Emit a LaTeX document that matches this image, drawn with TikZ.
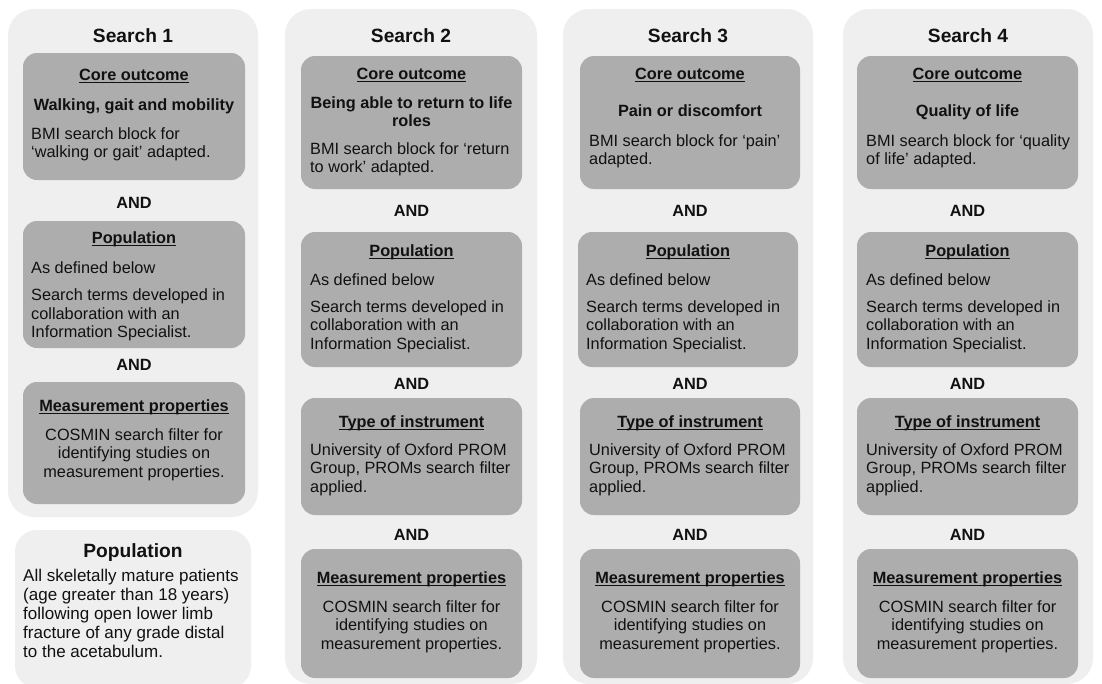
\documentclass[tikz,border=0pt]{standalone}
\usepackage{fontspec}
\setmainfont{Liberation Sans}
\definecolor{panelgray}{HTML}{EFEFEF}
\definecolor{boxgray}{HTML}{ADADAD}
\definecolor{ink}{HTML}{111111}
\newcommand{\fsbody}{\fontsize{16.3}{18.5}\selectfont}
\newcommand{\fspop}{\fontsize{17}{19}\selectfont}
\newcommand{\ulx}[1]{\leavevmode\setbox0\hbox{#1}\rlap{\rule[-3pt]{\wd0}{1.1pt}}\box0}
\tikzset{
  panelbox/.style={fill=panelgray, draw=none, rounded corners=26pt, inner sep=0, outer sep=0, anchor=north west},
  popbox/.style={fill=panelgray, draw=none, rounded corners=22pt, inner sep=0, outer sep=0, anchor=north west},
  greybox/.style={fill=boxgray, draw=none, rounded corners=14pt, inner sep=0, outer sep=0, anchor=north west},
  titletext/.style={anchor=base, inner sep=0, text=ink, font=\bfseries\fontsize{19.2}{22}\selectfont},
  headtext/.style={anchor=base, inner sep=0, text=ink, font=\bfseries\fsbody},
  headpara/.style={anchor=north, inner sep=0, text=ink, align=center, yshift=12.95pt, font=\bfseries\fsbody},
  bodyleft/.style={anchor=north west, inner sep=0, text=ink, align=left, yshift=12.95pt, font=\fsbody},
  bodycenter/.style={anchor=north, inner sep=0, text=ink, align=center, yshift=12.95pt, font=\fsbody},
  popleft/.style={anchor=north west, inner sep=0, text=ink, align=left, yshift=13.3pt, font=\fspop},
  poptitle/.style={anchor=base, inner sep=0, text=ink, font=\bfseries\fontsize{19.2}{22}\selectfont},
}
\begin{document}
\begin{tikzpicture}[x=1pt,y=-1pt]
\useasboundingbox (0,0) rectangle (1102,683);
\clip (0,0) rectangle (1102,683);
\fill[white] (0,0) rectangle (1102,683);

% ---------------- Search 1 ----------------
\node[panelbox, minimum width=250pt, minimum height=508pt] (p1) at (8,9) {};
\node[titletext] (t1) at (133,42) {Search 1};
\node[greybox, minimum width=222pt, minimum height=127pt] (b1a) at (23,53) {};
\node[headtext] (h1a) at (134,80) {\ulx{Core outcome}};
\node[headtext] (o1) at (134,110) {Walking, gait and mobility};
\node[bodyleft] (d1a) at (31,139) {\strut BMI search block for\\‘walking or gait’ adapted.};
\node[headtext] (and1a) at (134,208) {AND};
\node[greybox, minimum width=222pt, minimum height=127pt] (b1b) at (23,221) {};
\node[headtext] (h1b) at (134,243) {\ulx{Population}};
\node[bodyleft] (d1b) at (31,273) {\strut As defined below};
\node[bodyleft] (e1b) at (31,300.5) {\strut Search terms developed in\\collaboration with an\\Information Specialist.};
\node[headtext] (and1b) at (134,370) {AND};
\node[greybox, minimum width=222pt, minimum height=122pt] (b1c) at (23,382) {};
\node[headtext] (h1c) at (134,411) {\ulx{Measurement properties}};
\node[bodycenter] (d1c) at (134,440) {\strut COSMIN search filter for\\identifying studies on\\measurement properties.};

% ---------------- Population panel ----------------
\node[popbox, minimum width=236pt, minimum height=158pt] (pp) at (15,530) {};
\node[poptitle] (ppt) at (133,557) {Population};
\node[popleft] (ppd) at (23,581) {\strut All skeletally mature patients\\(age greater than 18 years)\\following open lower limb\\fracture of any grade distal\\to the acetabulum.};

% ---------------- Search 2 ----------------
\node[panelbox, minimum width=252pt, minimum height=675pt] (p2) at (285,9) {};
\node[titletext] (t2) at (411,42) {Search 2};
\node[greybox, minimum width=221pt, minimum height=133pt] (b2a) at (301,56) {};
\node[headtext] (h2a) at (411.5,79) {\ulx{Core outcome}};
\node[headpara] (o2) at (411.5,108) {\strut Being able to return to life\\roles};
\node[bodyleft] (d2a) at (310,154) {\strut BMI search block for ‘return\\to work’ adapted.};
\node[headtext] (and2a) at (411.5,216) {AND};
\node[greybox, minimum width=221pt, minimum height=135pt] (b2b) at (301,232) {};
\node[headtext] (h2b) at (411.5,256) {\ulx{Population}};
\node[bodyleft] (d2b) at (310,285) {\strut As defined below};
\node[bodyleft] (e2b) at (310,312) {\strut Search terms developed in\\collaboration with an\\Information Specialist.};
\node[headtext] (and2b) at (411.5,389) {AND};
\node[greybox, minimum width=221pt, minimum height=117pt] (b2c) at (301,398) {};
\node[headtext] (h2c) at (411.5,427) {\ulx{Type of instrument}};
\node[bodyleft] (d2c) at (310,455) {\strut University of Oxford PROM\\Group, PROMs search filter\\applied.};
\node[headtext] (and2c) at (411.5,540) {AND};
\node[greybox, minimum width=221pt, minimum height=129pt] (b2d) at (301,549) {};
\node[headtext] (h2d) at (411.5,583) {\ulx{Measurement properties}};
\node[bodycenter] (d2d) at (411.5,612) {\strut COSMIN search filter for\\identifying studies on\\measurement properties.};

% ---------------- Search 3 ----------------
\node[panelbox, minimum width=250pt, minimum height=675pt] (p3) at (563,9) {};
\node[titletext] (t3) at (688,42) {Search 3};
\node[greybox, minimum width=220pt, minimum height=133pt] (b3a) at (580,56) {};
\node[headtext] (h3a) at (690,79) {\ulx{Core outcome}};
\node[headtext] (o3) at (690,116) {Pain or discomfort};
\node[bodyleft] (d3a) at (589,146) {\strut BMI search block for ‘pain’\\adapted.};
\node[headtext] (and3a) at (690,216) {AND};
\node[greybox, minimum width=220pt, minimum height=135pt] (b3b) at (578,232) {};
\node[headtext] (h3b) at (688,256) {\ulx{Population}};
\node[bodyleft] (d3b) at (586,285) {\strut As defined below};
\node[bodyleft] (e3b) at (586,312) {\strut Search terms developed in\\collaboration with an\\Information Specialist.};
\node[headtext] (and3b) at (690,389) {AND};
\node[greybox, minimum width=220pt, minimum height=117pt] (b3c) at (580,398) {};
\node[headtext] (h3c) at (690,427) {\ulx{Type of instrument}};
\node[bodyleft] (d3c) at (589,455) {\strut University of Oxford PROM\\Group, PROMs search filter\\applied.};
\node[headtext] (and3c) at (690,540) {AND};
\node[greybox, minimum width=220pt, minimum height=129pt] (b3d) at (580,549) {};
\node[headtext] (h3d) at (690,583) {\ulx{Measurement properties}};
\node[bodycenter] (d3d) at (690,612) {\strut COSMIN search filter for\\identifying studies on\\measurement properties.};

% ---------------- Search 4 ----------------
\node[panelbox, minimum width=250pt, minimum height=675pt] (p4) at (843,9) {};
\node[titletext] (t4) at (968,42) {Search 4};
\node[greybox, minimum width=221pt, minimum height=133pt] (b4a) at (857,56) {};
\node[headtext] (h4a) at (967.5,79) {\ulx{Core outcome}};
\node[headtext] (o4) at (967.5,116) {Quality of life};
\node[bodyleft] (d4a) at (866,146) {\strut BMI search block for ‘quality\\of life’ adapted.};
\node[headtext] (and4a) at (967.5,216) {AND};
\node[greybox, minimum width=221pt, minimum height=135pt] (b4b) at (857,232) {};
\node[headtext] (h4b) at (967.5,256) {\ulx{Population}};
\node[bodyleft] (d4b) at (866,285) {\strut As defined below};
\node[bodyleft] (e4b) at (866,312) {\strut Search terms developed in\\collaboration with an\\Information Specialist.};
\node[headtext] (and4b) at (967.5,389) {AND};
\node[greybox, minimum width=221pt, minimum height=117pt] (b4c) at (857,398) {};
\node[headtext] (h4c) at (967.5,427) {\ulx{Type of instrument}};
\node[bodyleft] (d4c) at (866,455) {\strut University of Oxford PROM\\Group, PROMs search filter\\applied.};
\node[headtext] (and4c) at (967.5,540) {AND};
\node[greybox, minimum width=221pt, minimum height=129pt] (b4d) at (857,549) {};
\node[headtext] (h4d) at (967.5,583) {\ulx{Measurement properties}};
\node[bodycenter] (d4d) at (967.5,612) {\strut COSMIN search filter for\\identifying studies on\\measurement properties.};
\end{tikzpicture}
\end{document}
